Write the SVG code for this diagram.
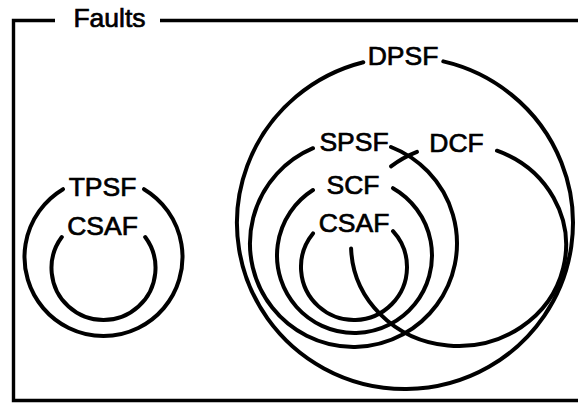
<svg xmlns="http://www.w3.org/2000/svg" width="578" height="404" viewBox="0 0 578 404">
  <style>
    .frame { fill: none; stroke: #000; stroke-width: 3.4; }
    .set { fill: none; stroke: #000; stroke-width: 4; stroke-linecap: round; }
    .lbl { font-family: "Liberation Sans", Arial, sans-serif; font-size: 26.5px; fill: #000; stroke: #000; stroke-width: 0.7; text-anchor: middle; }
  </style>
  <rect width="578" height="404" fill="#fff"/>

  <!-- outer frame with title -->
  <g id="frame">
    <path class="frame" d="M 55 20.5 H 13.5 V 400.5 H 578"/>
    <path class="frame" d="M 160 20.5 H 578"/>
    <text class="lbl" x="109.5" y="27">Faults</text>
  </g>

  <!-- left group -->
  <g id="tpsf">
    <path class="set" d="M 144 189.2 A 79 79 0 1 1 63 189.2"/>
    <text class="lbl" x="102.5" y="196">TPSF</text>
  </g>
  <g id="csaf-left">
    <path class="set" d="M 145.2 237 A 52 52 0 1 1 61.8 237"/>
    <text class="lbl" x="102.5" y="235">CSAF</text>
  </g>

  <!-- right group -->
  <g id="dpsf">
    <path class="set" d="M 443.3 61.4 A 168 166 0 1 1 363.3 62.2"/>
    <text class="lbl" x="403" y="65">DPSF</text>
  </g>
  <g id="spsf">
    <path class="set" d="M 391 147 A 103.5 103.5 0 1 1 313 148.2"/>
    <text class="lbl" x="354" y="151">SPSF</text>
  </g>
  <g id="scf">
    <path class="set" d="M 393 188.2 A 77.5 77.5 0 1 1 313 190"/>
    <text class="lbl" x="353" y="193.5">SCF</text>
  </g>
  <g id="csaf-right">
    <path class="set" d="M 393 231.1 A 53 53 0 1 1 313 233.4"/>
    <text class="lbl" x="354" y="232">CSAF</text>
  </g>
  <g id="dcf">
    <path class="set" d="M 391 166.4 A 107.5 101 0 0 1 417 151.9"/>
    <path class="set" d="M 497 150.7 A 107.5 101 0 1 1 351.1 248.5"/>
    <text class="lbl" x="456.5" y="151.5">DCF</text>
  </g>
</svg>
